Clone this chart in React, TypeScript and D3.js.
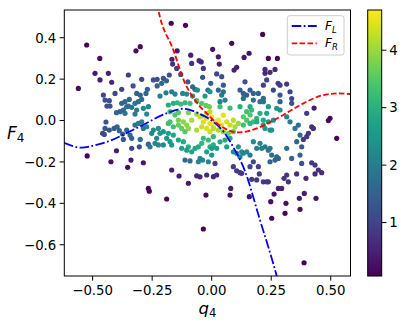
import React from "react";
import * as d3 from "d3";

// ---------- data ----------
const X_TICKS = [-0.5, -0.25, 0, 0.25, 0.5];
const X_TICK_LABELS = ["\u22120.50", "\u22120.25", "0.00", "0.25", "0.50"];
const Y_TICKS = [0.4, 0.2, 0, -0.2, -0.4, -0.6];
const Y_TICK_LABELS = ["0.4", "0.2", "0.0", "\u22120.2", "\u22120.4", "\u22120.6"];
const CB_TICKS = [1, 2, 3, 4];
const CB_RANGE = [0.07, 4.7];
const X_RANGE = [-0.619, 0.583];
const Y_RANGE = [-0.751, 0.534];

// F_L curve (blue dash-dot)
const F_L: [number, number][] = [
  [-0.62, -0.108], [-0.546, -0.131], [-0.5, -0.122], [-0.43, -0.099], [-0.36, -0.062],
  [-0.29, -0.022], [-0.19, 0.035], [-0.12, 0.057], [-0.05, 0.032], [0.007, -0.006],
  [0.05, -0.054], [0.09, -0.127], [0.14, -0.245], [0.2, -0.47], [0.273, -0.75], [0.28, -0.78],
];
// F_R curve (red dashed)
const F_R: [number, number][] = [
  [-0.235, 0.6], [-0.224, 0.534], [-0.161, 0.341], [-0.112, 0.18], [-0.077, 0.11],
  [-0.049, 0.067], [-0.021, 0.035], [0.007, 0.002], [0.05, -0.035], [0.105, -0.057],
  [0.15, -0.052], [0.189, -0.038], [0.287, 0.018], [0.385, 0.083], [0.469, 0.123],
  [0.53, 0.131], [0.583, 0.128],
];

// scatter points: [q4, F4, density]
const POINTS: [number, number, number][] = [
  // sparse outer points
  [-0.525, 0.365, 0.15], [-0.47, 0.3, 0.25], [-0.56, 0.155, 0.2], [-0.49, 0.228, 0.35], [-0.434, 0.228, 0.45],
  [-0.469, 0.196, 0.45], [-0.42, 0.185, 0.6], [-0.3, 0.357, 0.25], [-0.318, 0.337, 0.25], [-0.17, 0.47, 0.15],
  [-0.11, 0.46, 0.15], [-0.145, 0.337, 0.35], [-0.167, 0.296, 0.45], [-0.088, 0.316, 0.45], [0.004, 0.344, 0.3],
  [0.084, 0.373, 0.2], [0.214, 0.416, 0.15], [0.157, 0.325, 0.3], [0.136, 0.305, 0.35], [0.238, 0.3, 0.2],
  [0.276, 0.3, 0.2], [0.497, 0.011, 0.15], [0.49, 0.0, 0.2], [0.525, -0.086, 0.15],
  [-0.523, -0.171, 0.15], [-0.4, -0.146, 0.45], [-0.423, -0.199, 0.3], [-0.353, -0.226, 0.25], [-0.339, -0.191, 0.35],
  [-0.287, -0.204, 0.35], [-0.266, -0.328, 0.15], [-0.262, -0.341, 0.15], [-0.189, -0.379, 0.15], [-0.168, -0.239, 0.5],
  [-0.137, -0.268, 0.45], [-0.098, -0.303, 0.35], [-0.063, -0.267, 0.55], [-0.112, -0.191, 1.6], [-0.091, -0.195, 1.7],
  // upper-left cloud
  [-0.053, 0.289, 0.6], [-0.044, 0.283, 0.6], [-0.084, 0.276, 0.7], [-0.164, 0.273, 0.7], [-0.035, 0.252, 0.8],
  [-0.147, 0.252, 0.9], [-0.35, 0.22, 0.9], [-0.294, 0.199, 1.0], [-0.245, 0.196, 1.2], [-0.229, 0.199, 1.2],
  [-0.203, 0.204, 1.2], [-0.178, 0.22, 1.2], [-0.13, 0.223, 1.2], [-0.1, 0.187, 1.4], [-0.08, 0.163, 1.6],
  [-0.07, 0.151, 1.6], [-0.038, 0.209, 1.3], [-0.016, 0.147, 1.8], [-0.004, 0.18, 1.5], [-0.378, 0.151, 1.0],
  [-0.33, 0.167, 1.2], [-0.27, 0.151, 1.5], [-0.315, 0.131, 1.5], [-0.3, 0.123, 1.5], [-0.276, 0.131, 1.6],
  [-0.229, 0.167, 1.5], [-0.21, 0.18, 1.5], [-0.19, 0.192, 1.5], [-0.217, 0.118, 2.0], [-0.192, 0.134, 2.0],
  [-0.168, 0.139, 2.0], [-0.154, 0.128, 2.1], [-0.122, 0.131, 2.2], [-0.105, 0.128, 2.3], [-0.08, 0.118, 2.4],
  [-0.06, 0.147, 2.2], [-0.028, 0.118, 2.6], [-0.007, 0.139, 2.4], [-0.346, 0.102, 1.5], [-0.364, 0.091, 1.5],
  [-0.378, 0.083, 1.5], [-0.294, 0.102, 1.8], [-0.308, 0.091, 1.8], [-0.322, 0.083, 1.8], [-0.357, 0.067, 1.7],
  [-0.371, 0.051, 1.7], [-0.364, 0.035, 1.8], [-0.315, 0.051, 2.0], [-0.322, 0.031, 2.0], [-0.287, 0.059, 2.2],
  [-0.266, 0.067, 2.2], [-0.273, 0.031, 2.3],
  [-0.182, 0.075, 2.9], [-0.161, 0.083, 3.0], [-0.145, 0.086, 3.1], [-0.13, 0.08, 3.2], [-0.112, 0.086, 3.2],
  [-0.091, 0.083, 3.3], [-0.063, 0.096, 3.3], [-0.042, 0.083, 3.5], [-0.024, 0.073, 3.6], [-0.01, 0.067, 3.7],
  [-0.175, 0.043, 3.3], [-0.154, 0.027, 3.4], [-0.14, 0.038, 3.5], [-0.098, 0.038, 3.8], [-0.063, 0.031, 4.0],
  [-0.042, 0.022, 4.1], [-0.021, 0.035, 4.2], [-0.007, 0.043, 4.2],
  // left cloud
  [-0.455, 0.123, 1.0], [-0.448, 0.099, 1.2], [-0.43, 0.096, 1.2], [-0.44, 0.07, 1.2], [-0.427, 0.07, 1.2],
  [-0.406, 0.131, 1.1], [-0.4, 0.038, 1.5], [-0.385, 0.043, 1.5], [-0.35, 0.07, 1.8], [-0.336, 0.064, 1.8],
  [-0.444, -0.007, 1.3], [-0.448, -0.038, 1.3], [-0.43, -0.046, 1.3], [-0.451, -0.067, 1.2], [-0.41, -0.038, 1.4],
  [-0.397, -0.03, 1.5], [-0.388, -0.049, 1.5], [-0.374, -0.065, 1.5], [-0.371, -0.091, 1.4], [-0.357, -0.046, 1.6],
  [-0.343, -0.07, 1.6], [-0.336, -0.086, 1.5], [-0.3, -0.091, 1.8], [-0.322, -0.022, 1.8], [-0.308, -0.014, 1.9],
  [-0.294, -0.006, 2.0], [-0.287, -0.038, 2.0], [-0.273, -0.03, 2.1], [-0.458, -0.062, 1.1], [-0.336, -0.134, 1.0],
  [-0.304, -0.127, 1.2], [-0.266, -0.114, 1.5],
  // lower-centre-left
  [-0.245, -0.046, 2.2], [-0.252, -0.062, 2.1], [-0.224, -0.038, 2.4], [-0.231, -0.086, 2.2], [-0.217, -0.062, 2.4],
  [-0.203, -0.054, 2.5], [-0.182, -0.062, 2.7], [-0.189, -0.086, 2.5], [-0.161, -0.07, 2.8], [-0.175, -0.102, 2.5],
  [-0.224, -0.118, 2.2], [-0.238, -0.11, 2.1], [-0.203, -0.118, 2.3], [-0.168, -0.118, 2.5], [-0.259, -0.127, 1.9],
  // yellow core (left half)
  [-0.182, -0.014, 3.2], [-0.175, -0.006, 3.3], [-0.161, -0.03, 3.3], [-0.14, -0.022, 3.6], [-0.126, -0.038, 3.6],
  [-0.112, -0.054, 3.5], [-0.14, 0.002, 3.7], [-0.119, -0.006, 3.9], [-0.105, -0.022, 3.9], [-0.084, 0.002, 4.1],
  [-0.098, -0.038, 3.9], [-0.063, -0.046, 4.1], [-0.042, -0.03, 4.3], [-0.021, -0.038, 4.4], [-0.007, -0.014, 4.5],
  [0.007, -0.03, 4.5], [-0.035, -0.006, 4.4], [-0.021, 0.011, 4.5], [-0.049, 0.018, 4.3], [-0.007, -0.054, 4.3],
  // below core
  [-0.14, -0.094, 2.8], [-0.119, -0.102, 2.9], [-0.098, -0.127, 2.9], [-0.126, -0.134, 2.7], [-0.105, -0.143, 2.7],
  [-0.084, -0.151, 2.7], [-0.07, -0.134, 2.8], [-0.056, -0.127, 2.9], [-0.042, -0.11, 3.1], [-0.035, -0.086, 3.2],
  [-0.014, -0.094, 3.2], [-0.007, -0.127, 2.9], [0.007, -0.118, 3.0], [-0.021, -0.151, 2.7], [-0.049, -0.183, 2.3],
  [-0.038, -0.191, 2.2], [-0.014, -0.199, 2.1], [0.0, -0.167, 2.5], [-0.056, -0.199, 2.1],
  [-0.049, -0.272, 0.6], [-0.021, -0.263, 0.6],
  // right of curve, middle
  [0.329, -0.006, 2.0], [0.35, -0.038, 1.9], [0.364, -0.022, 1.8], [0.371, -0.07, 1.7], [0.357, -0.102, 1.6],
  [0.378, -0.127, 1.4], [0.315, -0.134, 1.8], [0.336, -0.183, 1.5], [0.371, -0.167, 1.5], [0.378, -0.207, 1.2],
  // below core, right
  [0.007, -0.078, 3.1], [0.0, -0.134, 2.6], [0.035, -0.103, 2.9], [0.021, -0.134, 2.6], [0.063, -0.127, 2.7],
  [0.056, -0.094, 2.9], [0.077, -0.086, 2.9], [0.091, -0.151, 2.4], [0.112, -0.127, 2.5], [0.126, -0.151, 2.3],
  [0.133, -0.158, 2.2], [0.105, -0.158, 2.3], [0.119, -0.175, 2.1], [0.147, -0.151, 2.2], [0.161, -0.167, 2.0],
  [0.189, -0.134, 2.1], [0.21, -0.134, 2.0], [0.224, -0.127, 2.0], [0.238, -0.143, 1.9], [0.245, -0.134, 1.9],
  [0.203, -0.11, 2.2], [0.175, -0.102, 2.3], [0.252, -0.167, 1.7], [0.245, -0.199, 1.5], [0.273, -0.175, 1.6],
  [0.266, -0.191, 1.5], [0.28, -0.183, 1.5],
  // lower right
  [0.014, -0.207, 0.9], [0.007, -0.271, 0.6], [0.021, -0.263, 0.6], [0.091, -0.223, 0.9], [0.105, -0.243, 0.8],
  [0.119, -0.252, 0.8], [0.126, -0.255, 0.8], [0.161, -0.223, 1.0], [0.175, -0.199, 1.1], [0.196, -0.223, 1.0],
  [0.2, -0.258, 0.9], [0.168, -0.284, 0.8], [0.189, -0.287, 0.8], [0.217, -0.296, 0.8], [0.231, -0.296, 0.8],
  [0.238, -0.296, 0.8], [0.28, -0.328, 0.5], [0.294, -0.328, 0.5], [0.304, -0.279, 0.8], [0.315, -0.263, 0.8],
  [0.322, -0.296, 0.7], [0.357, -0.258, 0.7], [0.396, -0.279, 0.6], [0.368, -0.376, 0.35], [0.389, -0.352, 0.4],
  [0.371, -0.429, 0.25], [0.438, -0.376, 0.3], [0.312, -0.4, 0.25], [0.308, -0.448, 0.15], [0.262, -0.355, 0.3],
  [0.248, -0.392, 0.25], [0.252, -0.472, 0.15], [0.158, -0.368, 0.3], [0.08, -0.328, 0.4], [0.077, -0.36, 0.3],
  [-0.024, -0.36, 0.2], [-0.035, -0.524, 0.1], [0.388, -0.687, 0.1],
  [0.42, -0.204, 0.8], [0.434, -0.215, 0.8], [0.448, -0.239, 0.7], [0.462, -0.252, 0.7], [0.434, -0.258, 0.6],
  // yellow core (right half) and green band
  [0.0, 0.018, 4.6], [0.014, -0.006, 4.6], [0.028, 0.002, 4.6], [0.042, -0.022, 4.5], [0.049, 0.026, 4.5],
  [0.063, -0.006, 4.4], [0.077, -0.022, 4.3], [0.091, 0.002, 4.2], [0.098, -0.03, 4.1], [0.112, -0.014, 4.0],
  [0.133, 0.018, 3.5], [0.147, 0.002, 3.4], [0.161, 0.027, 3.4], [0.175, -0.006, 3.2], [0.189, 0.011, 3.1],
  [0.203, 0.035, 3.0], [0.217, 0.002, 2.9], [0.147, 0.043, 3.3], [0.168, 0.051, 3.2],
  [0.287, 0.051, 2.4], [0.315, 0.018, 2.1], [0.259, 0.002, 2.5], [0.231, 0.035, 2.8], [0.245, -0.046, 2.4],
  [0.133, -0.022, 3.3], [0.161, -0.014, 3.1], [0.189, -0.006, 2.9], [0.217, -0.022, 2.7], [0.238, -0.006, 2.6],
  [0.224, -0.038, 2.6], [0.252, -0.046, 2.4],
  [0.007, -0.038, 4.2], [0.028, -0.046, 4.1], [0.049, -0.054, 3.9], [0.07, -0.062, 3.7], [0.091, -0.054, 3.6],
  // upper right cloud
  [0.105, 0.257, 0.5], [0.094, 0.244, 0.5], [0.028, 0.308, 0.4], [0.032, 0.273, 0.5],
  [0.224, 0.247, 0.6], [0.224, 0.228, 0.6], [0.245, 0.233, 0.6], [0.266, 0.247, 0.6],
  [0.021, 0.225, 1.1], [0.042, 0.212, 1.2], [0.049, 0.171, 1.4], [0.049, 0.139, 1.7], [0.028, 0.147, 1.6],
  [0.042, 0.123, 1.9], [0.056, 0.099, 2.1], [0.035, 0.091, 2.1],
  [0.14, 0.187, 1.2], [0.119, 0.147, 1.4], [0.133, 0.131, 1.5], [0.147, 0.123, 1.5], [0.161, 0.147, 1.4],
  [0.175, 0.131, 1.5], [0.196, 0.131, 1.5], [0.203, 0.091, 1.8], [0.217, 0.091, 1.8], [0.217, 0.107, 1.7],
  [0.175, 0.099, 1.8], [0.133, 0.107, 1.7], [0.217, 0.171, 1.0], [0.231, 0.196, 1.0],
  [0.279, 0.18, 0.9], [0.287, 0.171, 0.9], [0.315, 0.176, 0.8], [0.259, 0.147, 1.1], [0.287, 0.123, 1.3],
  [0.329, 0.139, 1.0], [0.336, 0.106, 1.1], [0.287, 0.091, 1.5], [0.336, 0.083, 1.2],
  [0.119, 0.067, 3.0], [0.161, 0.067, 2.9], [0.238, 0.067, 2.6], [0.273, 0.059, 2.5], [0.035, 0.067, 3.3], [0.077, 0.06, 3.2],
  // far right middle
  [0.43, 0.06, 0.4], [0.42, -0.03, 0.7], [0.427, -0.038, 0.7], [0.406, -0.062, 0.8], [0.399, -0.078, 0.8],
  [0.385, -0.091, 0.9], [0.399, 0.035, 0.9],
];

// ---------- layout ----------
const W = 405;
const H = 327;
const PL = 64.3, PR = 350.5, PT = 10, PB = 276;
const CBL = 367.7, CBR = 381.7;
const FONT = "DejaVu Sans, Verdana, sans-serif";

export default function App() {
  const x = d3.scaleLinear().domain(X_RANGE).range([PL, PR]);
  const y = d3.scaleLinear().domain(Y_RANGE).range([PB, PT]);
  const cScale = d3.scaleLinear().domain(CB_RANGE).range([0, 1]).clamp(true);
  const color = (v: number) => d3.interpolateViridis(cScale(v));
  const cbY = d3.scaleLinear().domain(CB_RANGE).range([PB, PT]);

  const line = d3
    .line<[number, number]>()
    .x((d) => x(d[0]))
    .y((d) => y(d[1]))
    .curve(d3.curveMonotoneX);

  const stops = d3.range(0, 1.0001, 0.05);

  return (
    <svg
      width={W}
      height={H}
      style={{ position: "absolute", left: 0, top: 0, background: "#fff" }}
      fontFamily={FONT}
    >
      <defs>
        <clipPath id="plotClip">
          <rect x={PL} y={PT} width={PR - PL} height={PB - PT} />
        </clipPath>
        <linearGradient id="cbGrad" x1="0" y1="1" x2="0" y2="0">
          {stops.map((t) => (
            <stop key={t} offset={t} stopColor={d3.interpolateViridis(t)} />
          ))}
        </linearGradient>
      </defs>
      <rect x={0} y={0} width={W} height={H} fill="#fff" />

      {/* scatter */}
      <g clipPath="url(#plotClip)">
        {POINTS.map((p, i) => (
          <circle key={i} cx={x(p[0])} cy={y(p[1])} r={2.6} fill={color(p[2])} />
        ))}
        <path d={line(F_L) || ""} fill="none" stroke="#0000ff" strokeWidth={1.8}
          strokeDasharray="9.6,2.4,1.8,2.4" />
        <path d={line(F_R) || ""} fill="none" stroke="#ff0000" strokeWidth={1.8}
          strokeDasharray="5.5,2.4" />
      </g>

      {/* frame */}
      <rect x={PL} y={PT} width={PR - PL} height={PB - PT} fill="none" stroke="#000" strokeWidth={1} />

      {/* x ticks */}
      {X_TICKS.map((t, i) => (
        <g key={"x" + i}>
          <line x1={x(t)} x2={x(t)} y1={PB} y2={PB + 4.7} stroke="#000" strokeWidth={1} />
          <text x={x(t)} y={PB + 18.5} textAnchor="middle" fontSize={13.3} fill="#000">
            {X_TICK_LABELS[i]}
          </text>
        </g>
      ))}
      {/* y ticks */}
      {Y_TICKS.map((t, i) => (
        <g key={"y" + i}>
          <line x1={PL - 4.7} x2={PL} y1={y(t)} y2={y(t)} stroke="#000" strokeWidth={1} />
          <text x={PL - 8} y={y(t) + 4.8} textAnchor="end" fontSize={13.3} fill="#000">
            {Y_TICK_LABELS[i]}
          </text>
        </g>
      ))}

      {/* axis labels */}
      <text x={(PL + PR) / 2} y={313.5} textAnchor="middle" fontSize={16.5} fill="#000">
        <tspan fontStyle="italic">q</tspan>
        <tspan fontSize={11.5} dy={3}>4</tspan>
      </text>
      <text x={7} y={139} fontSize={17} fill="#000">
        <tspan fontStyle="italic">F</tspan>
        <tspan fontSize={12} dy={3}>4</tspan>
      </text>

      {/* legend */}
      <rect x={287.3} y={15.7} width={56.7} height={39.3} rx={2.5} fill="#fff" fillOpacity={0.8}
        stroke="#cccccc" strokeWidth={1} />
      <line x1={291.7} x2={316.7} y1={26} y2={26} stroke="#0000ff" strokeWidth={1.8}
        strokeDasharray="9.6,2.4,1.8,2.4" />
      <line x1={291.7} x2={316.7} y1={43.3} y2={43.3} stroke="#ff0000" strokeWidth={1.8}
        strokeDasharray="5.5,2.4" />
      <text x={325} y={30} fontSize={12} fill="#000">
        <tspan fontStyle="italic">F</tspan>
        <tspan fontSize={8.5} fontStyle="italic" dy={2.5}>L</tspan>
      </text>
      <text x={325} y={47.3} fontSize={12} fill="#000">
        <tspan fontStyle="italic">F</tspan>
        <tspan fontSize={8.5} fontStyle="italic" dy={2.5}>R</tspan>
      </text>

      {/* colorbar */}
      <rect x={CBL} y={PT} width={CBR - CBL} height={PB - PT} fill="url(#cbGrad)" />
      <rect x={CBL} y={PT} width={CBR - CBL} height={PB - PT} fill="none" stroke="#000" strokeWidth={1} />
      {CB_TICKS.map((t) => (
        <g key={"c" + t}>
          <line x1={CBR} x2={CBR + 4.7} y1={cbY(t)} y2={cbY(t)} stroke="#000" strokeWidth={1} />
          <text x={CBR + 7.5} y={cbY(t) + 4.8} fontSize={13.3} fill="#000">
            {t}
          </text>
        </g>
      ))}
    </svg>
  );
}
